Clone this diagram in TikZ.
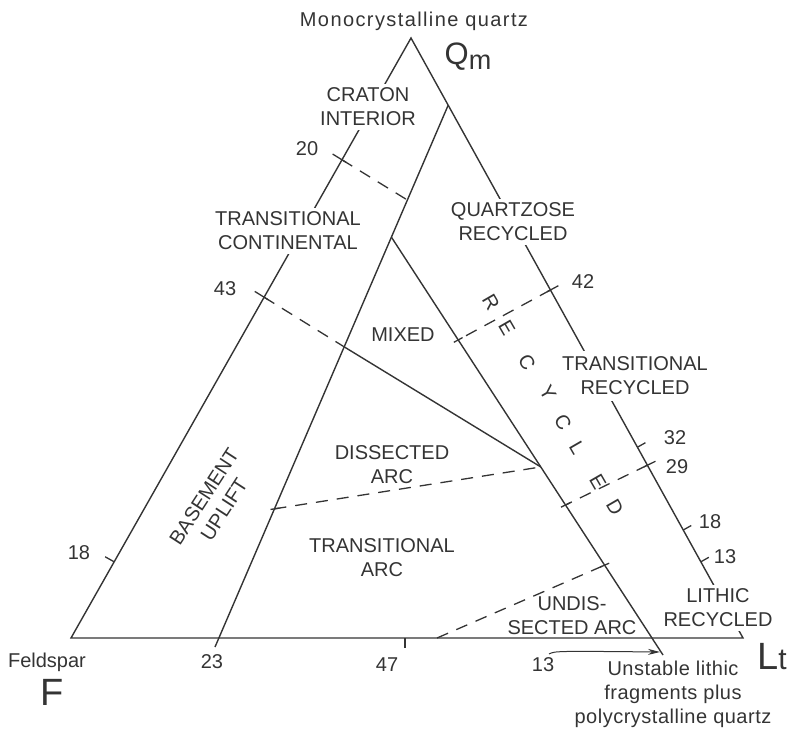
\documentclass[tikz,border=0pt]{standalone}
\usepackage{fontspec}
\setmainfont{Liberation Sans}
\usepackage{tikz}
\usetikzlibrary{arrows.meta,calc}
\definecolor{ink}{RGB}{52,52,52}

\begin{document}
\begin{tikzpicture}[
    x=1pt,y=-1pt,
    every node/.style={text=ink,font=\fontsize{20}{24}\selectfont},
    side/.style={draw=ink,line width=1.4pt},
    bound/.style={draw=ink,line width=1.3pt,dash pattern=on 12pt off 9pt},
    tickmark/.style={draw=ink,line width=1.3pt},
    field/.style={align=center},
    gapfield/.style={align=center,fill=white,inner sep=4pt},
    hand/.style={font=\fontsize{38}{38}\selectfont},
    pointer/.style={draw=ink,line width=1pt,-{Stealth[length=12pt,width=6pt]}},
    >=Stealth
]
\useasboundingbox (0,0) rectangle (795,734);

% corners of the diagram
\coordinate (F) at (71,638);
\coordinate (Qm) at (411,38);
\coordinate (Lt) at (743,638);

% inner field boundaries
\coordinate (q13) at ($(Qm)!0.112!(Lt)$);
\coordinate (f23) at (215,647);
\coordinate (m1) at ($(q13)!0.2435!(f23)$);
\coordinate (r13) at (663,655);
\coordinate (mx) at ($(q13)!0.446!(f23)$);
\coordinate (da) at ($(m1)!0.55!(r13)$);

% tick points on the sides
\coordinate (l20) at ($(F)!0.797!(Qm)$);
\coordinate (l43) at ($(F)!0.568!(Qm)$);
\coordinate (l18) at ($(F)!0.127!(Qm)$);
\coordinate (r42) at ($(Qm)!0.42!(Lt)$);
\coordinate (r32) at ($(Qm)!0.682!(Lt)$);
\coordinate (r29) at ($(Qm)!0.712!(Lt)$);
\coordinate (r18) at ($(Qm)!0.82!(Lt)$);
\coordinate (r13t) at ($(Qm)!0.873!(Lt)$);
\coordinate (b47) at (405,638);
\coordinate (b55) at (437,638);

% ends of the dashed boundaries
\coordinate (c20) at ($(q13)!0.175!(f23)$);
\coordinate (e42) at ($(m1)!0.246!(r13)$);
\coordinate (e29) at ($(m1)!0.641!(r13)$);
\coordinate (eu) at ($(m1)!0.785!(r13)$);
\coordinate (dA) at ($(q13)!0.745!(f23)$);

\draw[side] (F) -- (Qm) -- (Lt) -- cycle;
\draw[side] (q13) -- (f23);
\draw[side] (m1) -- (r13);
\draw[side] (mx) -- (da);

\draw[bound] (l20) -- (c20);
\draw[bound] (l43) -- (mx);
\draw[bound] (r42) -- (e42);
\draw[bound] (r29) -- (e29);
\draw[bound] (dA) -- (da);
\draw[bound] (b55) -- (eu);

% ticks
\draw[tickmark] ($(l20)!-11pt!(c20)$) -- ($(l20)!5pt!(c20)$);
\draw[tickmark] ($(l43)!-11pt!(mx)$) -- ($(l43)!5pt!(mx)$);
\draw[tickmark] (l18) -- ++(-9,-5);
\draw[tickmark] ($(r42)!-9pt!(e42)$) -- ($(r42)!4pt!(e42)$);
\draw[tickmark] ($(r29)!-9pt!(e29)$) -- ($(r29)!4pt!(e29)$);
\draw[tickmark] (r32) -- ++(8,-4.5);
\draw[tickmark] (r18) -- ++(8,-4.5);
\draw[tickmark] (r13t) -- ++(8,-4.5);
\draw[tickmark] ($(e42)!-5pt!(r42)$) -- ($(e42)!5pt!(r42)$);
\draw[tickmark] ($(e29)!-5pt!(r29)$) -- ($(e29)!5pt!(r29)$);
\draw[tickmark] ($(eu)!-5pt!(b55)$) -- ($(eu)!5pt!(b55)$);
\draw[tickmark] ($(dA)!-4pt!(da)$) -- ($(dA)!5pt!(da)$);
\draw[tickmark] (b47) -- ++(0,10);

% field names
\node[field,font=\fontsize{20}{24}\selectfont\addfontfeature{LetterSpace=7}] (mono) at (414,21) {Monocrystalline quartz};
\node[hand,font=\fontsize{31}{31}\selectfont] (qmlbl) at (468,57) {Q\raisebox{-5pt}{\fontsize{27}{27}\selectfont m}};
\node[gapfield] (craton) at (368,107) {CRATON\\INTERIOR};
\node[gapfield] (tcont) at (288,231) {TRANSITIONAL\\CONTINENTAL};
\node[field] (mixed) at (403,335) {MIXED};
\node[gapfield] (qrec) at (513,222) {QUARTZOSE\\RECYCLED};
\node[gapfield,inner ysep=6pt] (trec) at (635,376) {TRANSITIONAL\\RECYCLED};
\node[gapfield] (lrec) at (718,608) {LITHIC\\RECYCLED};
\node[field] (darc) at (392,465) {DISSECTED\\ARC};
\node[field] (tarc) at (382,558) {TRANSITIONAL\\ARC};
\node[field] (uarc) at (572,616) {UNDIS-\\SECTED ARC};
\node[field,rotate=57] (bup) at (214,503) {BASEMENT\\UPLIFT};

\foreach \ch/\px/\py [count=\i] in {R/491/302,E/507/328,C/527/362,Y/548/393,C/563/422,L/577/448,E/598/482,D/615/507}
    \node[rotate=-60] (rc\i) at (\px,\py) {\ch};

% values on the sides
\node (n20) at (307,149) {20};
\node (n43) at (225,289) {43};
\node (n18l) at (79,553) {18};
\node (n42) at (583,282) {42};
\node (n32) at (675,438) {32};
\node (n29) at (677,467) {29};
\node (n18r) at (710,522) {18};
\node (n13r) at (725,557) {13};
\node (n23) at (212,662) {23};
\node (n47) at (387,665) {47};
\node (n13b) at (543,665) {13};

% poles
\node (feld) at (47,662) {Feldspar};
\node[hand] (flbl) at (52,692) {F};
\node[field,font=\fontsize{20}{24}\selectfont\addfontfeature{LetterSpace=2.5}] (unst) at (673,694) {Unstable lithic\\fragments plus\\polycrystalline quartz};
\node[hand] (ltlbl) at (772,657) {L{\fontsize{30}{30}\selectfont t}};

\coordinate (ptr) at (549,654);
\coordinate (ptrtip) at (660,652);
\draw[pointer] (ptr) .. controls (555,651) .. (ptrtip);
\end{tikzpicture}
\end{document}
